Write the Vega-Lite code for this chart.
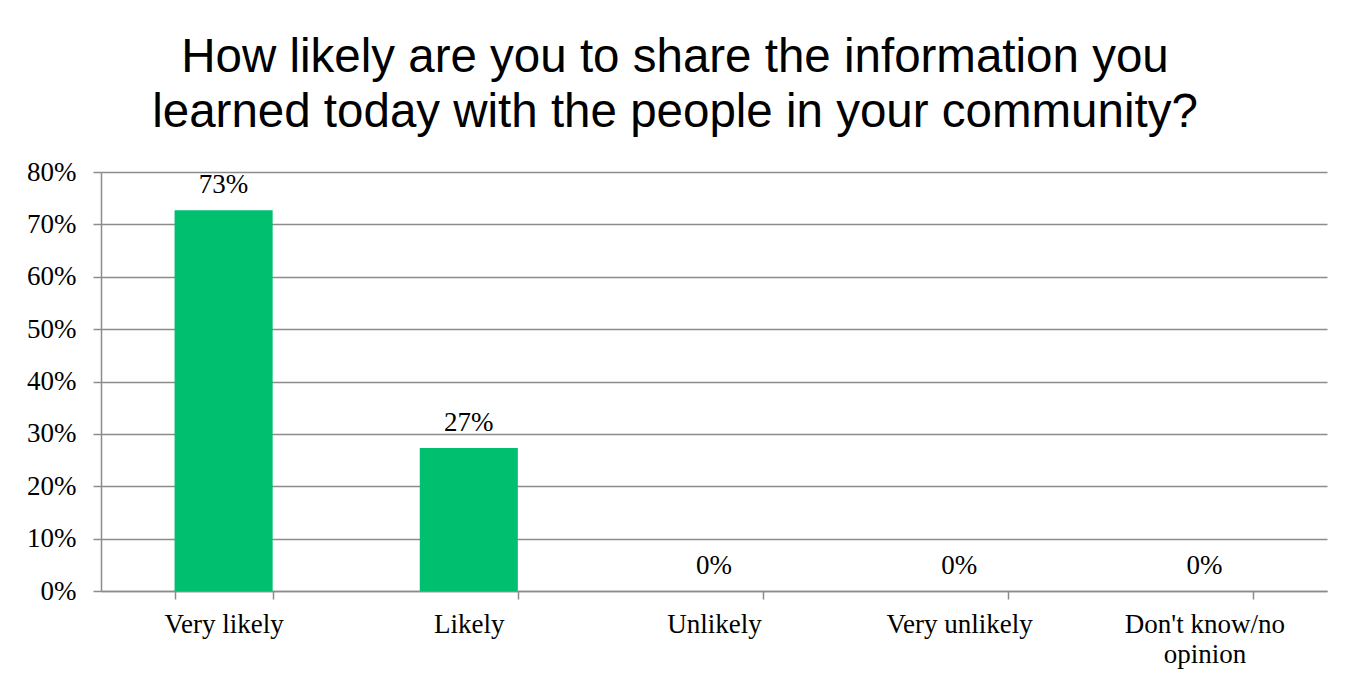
{
  "$schema": "https://vega.github.io/schema/vega-lite/v6.json",
  "autosize": "none",
  "width": 1226,
  "height": 419,
  "padding": {"left": 101, "top": 172, "right": 30, "bottom": 94},
  "background": "white",
  "title": {
    "text": ["How likely are you to share the information you", "learned today with the people in your community?"],
    "font": "Liberation Sans",
    "fontSize": 47.5,
    "fontWeight": "normal",
    "color": "#000000",
    "lineHeight": 55,
    "anchor": "middle",
    "frame": "group",
    "baseline": "alphabetic",
    "dx": -39,
    "dy": 50,
    "offset": 34
  },
  "data": {
    "values": [
      {"response": "Very likely", "share": 0.727},
      {"response": "Likely", "share": 0.273},
      {"response": "Unlikely", "share": 0},
      {"response": "Very unlikely", "share": 0},
      {"response": "Don't know/no opinion", "share": 0}
    ]
  },
  "encoding": {
    "x": {
      "field": "response",
      "type": "nominal",
      "sort": null,
      "scale": {"paddingInner": 0.6, "paddingOuter": 0.3},
      "axis": {
        "title": null,
        "labelAngle": 0,
        "labelFont": "Liberation Serif",
        "labelFontSize": 27,
        "labelColor": "#000000",
        "labelPadding": 12,
        "labelLineHeight": 30,
        "labelExpr": "datum.value == \"Don't know/no opinion\" ? [\"Don't know/no\", \"opinion\"] : datum.label",
        "tickBand": "extent",
        "tickSize": 8,
        "tickColor": "#8c8c8c",
        "tickWidth": 1.5,
        "domainColor": "#8c8c8c",
        "domainWidth": 1.5,
        "grid": false
      }
    },
    "y": {
      "field": "share",
      "type": "quantitative",
      "scale": {"domain": [0, 0.8], "nice": false},
      "axis": {
        "title": null,
        "format": ".0%",
        "tickCount": 8,
        "labelFont": "Liberation Serif",
        "labelFontSize": 27,
        "labelColor": "#000000",
        "labelPadding": 17,
        "labelOverlap": false,
        "tickSize": 8,
        "tickColor": "#8c8c8c",
        "tickWidth": 1.5,
        "domainColor": "#8c8c8c",
        "domainWidth": 1.5,
        "grid": true,
        "gridColor": "#8c8c8c",
        "gridWidth": 1.5
      }
    }
  },
  "layer": [
    {"mark": {"type": "bar", "color": "#00BF6F"}},
    {
      "mark": {
        "type": "text",
        "font": "Liberation Serif",
        "fontSize": 27,
        "color": "#000000",
        "baseline": "alphabetic",
        "dy": -17
      },
      "encoding": {"text": {"field": "share", "type": "quantitative", "format": ".0%"}}
    }
  ],
  "config": {"view": {"stroke": null}}
}
